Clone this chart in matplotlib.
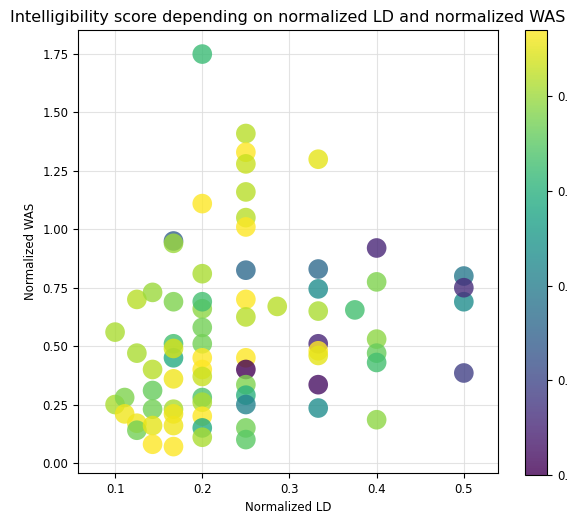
import numpy as np
import matplotlib
matplotlib.use('Agg')
import matplotlib.pyplot as plt

# normalized LD, normalized WAS and intelligibility score
ld = [0.1, 0.1,
      0.111, 0.111,
      0.125, 0.125, 0.125, 0.125,
      0.143, 0.143, 0.143, 0.143, 0.143, 0.143,
      0.167, 0.167, 0.167, 0.167, 0.167, 0.167, 0.167, 0.167, 0.167, 0.167, 0.167,
      0.2, 0.2, 0.2, 0.2, 0.2, 0.2, 0.2, 0.2, 0.2, 0.2, 0.2, 0.2, 0.2, 0.2, 0.2,
      0.25, 0.25, 0.25, 0.25, 0.25, 0.25, 0.25, 0.25, 0.25, 0.25, 0.25, 0.25, 0.25,
      0.25, 0.25, 0.25,
      0.286,
      0.333, 0.333, 0.333, 0.333, 0.333, 0.333, 0.333, 0.333, 0.333,
      0.375,
      0.4, 0.4, 0.4, 0.4, 0.4, 0.4,
      0.5, 0.5, 0.5, 0.5]
was = [0.56, 0.25,
       0.28, 0.21,
       0.70, 0.47, 0.17, 0.14,
       0.73, 0.40, 0.31, 0.23, 0.16, 0.08,
       0.95, 0.94, 0.69, 0.51, 0.45, 0.49, 0.36, 0.23, 0.21, 0.16, 0.07,
       1.75, 1.11, 0.81, 0.66, 0.69, 0.58, 0.51, 0.45, 0.40, 0.37, 0.28, 0.26, 0.20, 0.15, 0.11,
       1.41, 1.33, 1.28, 1.16, 1.05, 1.01, 0.825, 0.70, 0.625, 0.45, 0.40, 0.335, 0.29,
       0.25, 0.15, 0.10,
       0.67,
       1.30, 0.83, 0.745, 0.65, 0.51, 0.48, 0.46, 0.335, 0.235,
       0.655,
       0.92, 0.775, 0.53, 0.47, 0.43, 0.185,
       0.80, 0.69, 0.75, 0.385]
score = [0.91, 0.91,
         0.88, 0.96,
         0.92, 0.91, 0.96, 0.87,
         0.90, 0.92, 0.86, 0.87, 0.95, 0.97,
         0.64, 0.90, 0.88, 0.83, 0.79, 0.94, 0.96, 0.91, 0.96, 0.96, 0.97,
         0.82, 0.97, 0.91, 0.89, 0.83, 0.87, 0.87, 0.97, 0.97, 0.93, 0.84, 0.91, 0.97, 0.79, 0.91,
         0.92, 0.97, 0.93, 0.92, 0.92, 0.97, 0.66, 0.97, 0.92, 0.97, 0.50, 0.88, 0.80,
         0.71, 0.87, 0.85,
         0.92,
         0.95, 0.66, 0.73, 0.91, 0.55, 0.97, 0.95, 0.52, 0.73,
         0.83,
         0.55, 0.88, 0.89, 0.86, 0.83, 0.89,
         0.69, 0.73, 0.56, 0.59]

fig = plt.figure(figsize=(5.67, 5.13), dpi=100)
ax = fig.add_axes([0.1376, 0.078, 0.7404, 0.8635])
cax = fig.add_axes([0.926, 0.074, 0.039, 0.8675])

sc = ax.scatter(ld, was, c=score, cmap='viridis', s=200, alpha=0.8,
                edgecolors='none', zorder=3)
ax.set_xlim(0.0575, 0.539)
ax.set_ylim(-0.043, 1.853)
ax.set_xticks([0.1, 0.2, 0.3, 0.4, 0.5])
ax.set_yticks(np.arange(0, 2.0, 0.25))
ax.grid(True, color='#dddddd', linewidth=0.8, alpha=0.8)
ax.tick_params(labelsize=8.5)
ax.set_xlabel('Normalized LD', fontsize=8.5)
ax.set_ylabel('Normalized WAS', fontsize=8.5)
ax.set_title('Intelligibility score depending on normalized LD and normalized WAS',
             fontsize=11.5)

cb = fig.colorbar(sc, cax=cax)
cb.set_ticks([0.5, 0.6, 0.7, 0.8, 0.9])
cb.ax.tick_params(labelsize=8.5)
cb.outline.set_linewidth(0.8)

fig.savefig('out.png', dpi=100)
